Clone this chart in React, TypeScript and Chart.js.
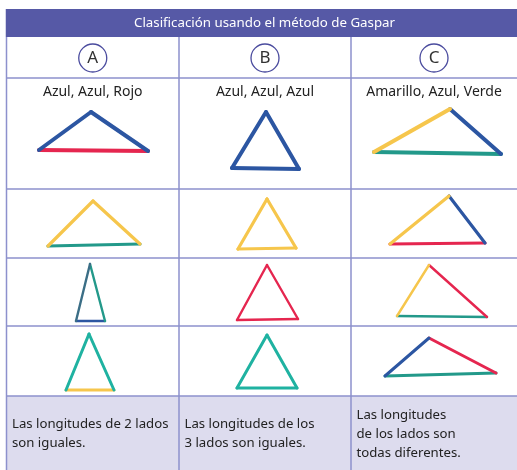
import React, { useEffect, useRef } from "react";
import { Chart, registerables } from "chart.js";

Chart.register(...registerables);

// ---------------- DATA ----------------
const headerTitle = "Clasificación usando el método de Gaspar";
const columnLetters = ["A", "B", "C"];
const colorLabels = ["Azul, Azul, Rojo", "Azul, Azul, Azul", "Amarillo, Azul, Verde"];
const descriptionsA = ["Las longitudes de 2 lados", "son iguales."];
const descriptionsB = ["Las longitudes de los", "3 lados son iguales."];
const descriptionsC = ["Las longitudes", "de los lados son", "todas diferentes."];

// triangle vertices (left, top, right), rows top→bottom, columns A,B,C
const trianglesRow1 = [
  [[39, 150], [91, 112], [148, 151]],
  [[232, 168], [266, 112], [299, 169]],
  [[374, 152], [450, 109], [501, 154]],
];
const trianglesRow2 = [
  [[48, 246], [93, 201], [140, 244]],
  [[238, 249], [267, 199], [296, 248]],
  [[390, 244], [449, 196], [485, 243]],
];
const trianglesRow3 = [
  [[76, 321], [90, 264], [105, 321]],
  [[237, 320], [267, 265], [298, 319]],
  [[397, 316], [429, 265], [487, 317]],
];
const trianglesRow4 = [
  [[66, 390], [89, 334], [114, 390]],
  [[237, 388], [267, 335], [297, 388]],
  [[385, 376], [429, 338], [496, 373]],
];
// side colours: left side, right side, base
const sidesRow1 = [["Azul", "Azul", "Rojo"], ["Azul", "Azul", "Azul"], ["Amarillo", "Azul", "Verde"]];
const sidesRow2 = [["Amarillo", "Amarillo", "Verde"], ["Amarillo", "Amarillo", "Amarillo"], ["Amarillo", "Azul", "Rojo"]];
const sidesRow3 = [["Pizarra", "Verde", "Azul"], ["Rojo", "Rojo", "Rojo"], ["Amarillo", "Rojo", "Verde"]];
const sidesRow4 = [["Turquesa", "Turquesa", "Amarillo"], ["Turquesa", "Turquesa", "Turquesa"], ["Azul", "Rojo", "Verde"]];

// ---------------- STYLE / LAYOUT ----------------
const W = 517;
const H = 470;
const FONT = '"Noto Sans", "DejaVu Sans", sans-serif';
const COLORS: Record<string, string> = {
  Azul: "#2c56a2",
  Rojo: "#e5264f",
  Amarillo: "#f6c64c",
  Verde: "#23998a",
  Turquesa: "#1fb2a1",
  Pizarra: "#3b6e86",
};
const ROW_WIDTHS = [4, 3.2, 2.4, 3];
const COL_EDGES = [6.5, 179, 351, 517];
const Y_HEADER_TOP = 9;
const Y_HEADER_BOTTOM = 37;
const Y_ROWS = [37, 78, 189, 258, 326, 396, 470];
const GRID = "#8d91cd";
const HEADER_FILL = "#5659a6";
const FOOT_FILL = "#dddcee";
const TEXT = "#222222";

const gridPlugin = {
  id: "tableGrid",
  beforeDatasetsDraw(chart: any) {
    const ctx = chart.ctx as CanvasRenderingContext2D;
    const xs = chart.scales.x;
    const ys = chart.scales.y;
    const px = (v: number) => xs.getPixelForValue(v);
    const py = (v: number) => ys.getPixelForValue(v);
    ctx.save();
    // header
    ctx.fillStyle = HEADER_FILL;
    ctx.fillRect(px(COL_EDGES[0]) - 0.75, py(Y_HEADER_TOP), px(W) - px(COL_EDGES[0]) + 0.75, py(Y_HEADER_BOTTOM) - py(Y_HEADER_TOP));
    // footer fill
    ctx.fillStyle = FOOT_FILL;
    ctx.fillRect(px(COL_EDGES[0]), py(Y_ROWS[5]), px(W) - px(COL_EDGES[0]), py(Y_ROWS[6]) - py(Y_ROWS[5]));
    // grid lines
    ctx.strokeStyle = GRID;
    ctx.lineWidth = 1.5;
    ctx.beginPath();
    for (let i = 1; i < Y_ROWS.length - 1; i++) {
      ctx.moveTo(px(COL_EDGES[0]), py(Y_ROWS[i]));
      ctx.lineTo(px(W), py(Y_ROWS[i]));
    }
    for (let i = 0; i < 3; i++) {
      ctx.moveTo(px(COL_EDGES[i]), py(Y_HEADER_BOTTOM));
      ctx.lineTo(px(COL_EDGES[i]), py(H));
    }
    ctx.stroke();

    // header text
    ctx.fillStyle = "#ffffff";
    ctx.font = `13.3px ${FONT}`;
    ctx.textAlign = "center";
    ctx.textBaseline = "middle";
    ctx.fillText(headerTitle, px(264.5), py(23.5));

    for (let c = 0; c < 3; c++) {
      const cx = px((COL_EDGES[c] + COL_EDGES[c + 1]) / 2);
      // letter circle
      ctx.beginPath();
      ctx.strokeStyle = "#4a4b9e";
      ctx.lineWidth = 1.3;
      ctx.arc(cx, py(58), 14, 0, Math.PI * 2);
      ctx.stroke();
      ctx.fillStyle = "#333333";
      ctx.font = `17px ${FONT}`;
      ctx.textAlign = "center";
      ctx.textBaseline = "middle";
      ctx.fillText(columnLetters[c], cx, py(58.5));
      // colour label
      ctx.fillStyle = TEXT;
      ctx.font = `14px ${FONT}`;
      ctx.fillText(colorLabels[c], cx, py(92));
      // description
      const lines = [descriptionsA, descriptionsB, descriptionsC][c];
      const lh = 19;
      const mid = (Y_ROWS[5] + Y_ROWS[6]) / 2 + 1;
      const start = mid - ((lines.length - 1) * lh) / 2;
      ctx.textAlign = "left";
      ctx.font = `13.2px ${FONT}`;
      lines.forEach((t, i) => {
        ctx.fillText(t, px(COL_EDGES[c]) + 5.5, py(start + i * lh));
      });
    }
    ctx.restore();
  },
};

function buildDatasets() {
  const rows = [trianglesRow1, trianglesRow2, trianglesRow3, trianglesRow4];
  const sides = [sidesRow1, sidesRow2, sidesRow3, sidesRow4];
  const ds: any[] = [];
  rows.forEach((row, r) => {
    row.forEach((tri, c) => {
      const [L, T, R] = tri;
      const segs = [
        [L, T],
        [T, R],
        [R, L],
      ];
      segs.forEach((seg, s) => {
        ds.push({
          label: `${r + 1}${columnLetters[c]}-${s}`,
          data: seg.map(([x, y]) => ({ x, y })),
          showLine: true,
          borderColor: COLORS[sides[r][c][s]],
          borderWidth: ROW_WIDTHS[r],
          borderCapStyle: "round",
          borderJoinStyle: "round",
          pointRadius: 0,
          pointHoverRadius: 0,
          fill: false,
          tension: 0,
        });
      });
    });
  });
  return ds;
}

export default function App() {
  const ref = useRef<HTMLCanvasElement | null>(null);
  useEffect(() => {
    if (!ref.current) return;
    const chart = new Chart(ref.current, {
      type: "scatter",
      data: { datasets: buildDatasets() },
      options: {
        animation: false,
        responsive: false,
        devicePixelRatio: 1,
        layout: { padding: 0 },
        events: [],
        plugins: { legend: { display: false }, tooltip: { enabled: false }, title: { display: false } },
        scales: {
          x: { type: "linear", min: 0, max: W, display: false },
          y: { type: "linear", min: 0, max: H, reverse: true, display: false },
        },
      } as any,
      plugins: [gridPlugin],
    });
    return () => chart.destroy();
  }, []);
  return (
    <div style={{ position: "absolute", left: 0, top: 0, width: W, height: H, background: "#ffffff" }}>
      <canvas ref={ref} width={W} height={H} style={{ display: "block", width: W, height: H }} />
    </div>
  );
}
